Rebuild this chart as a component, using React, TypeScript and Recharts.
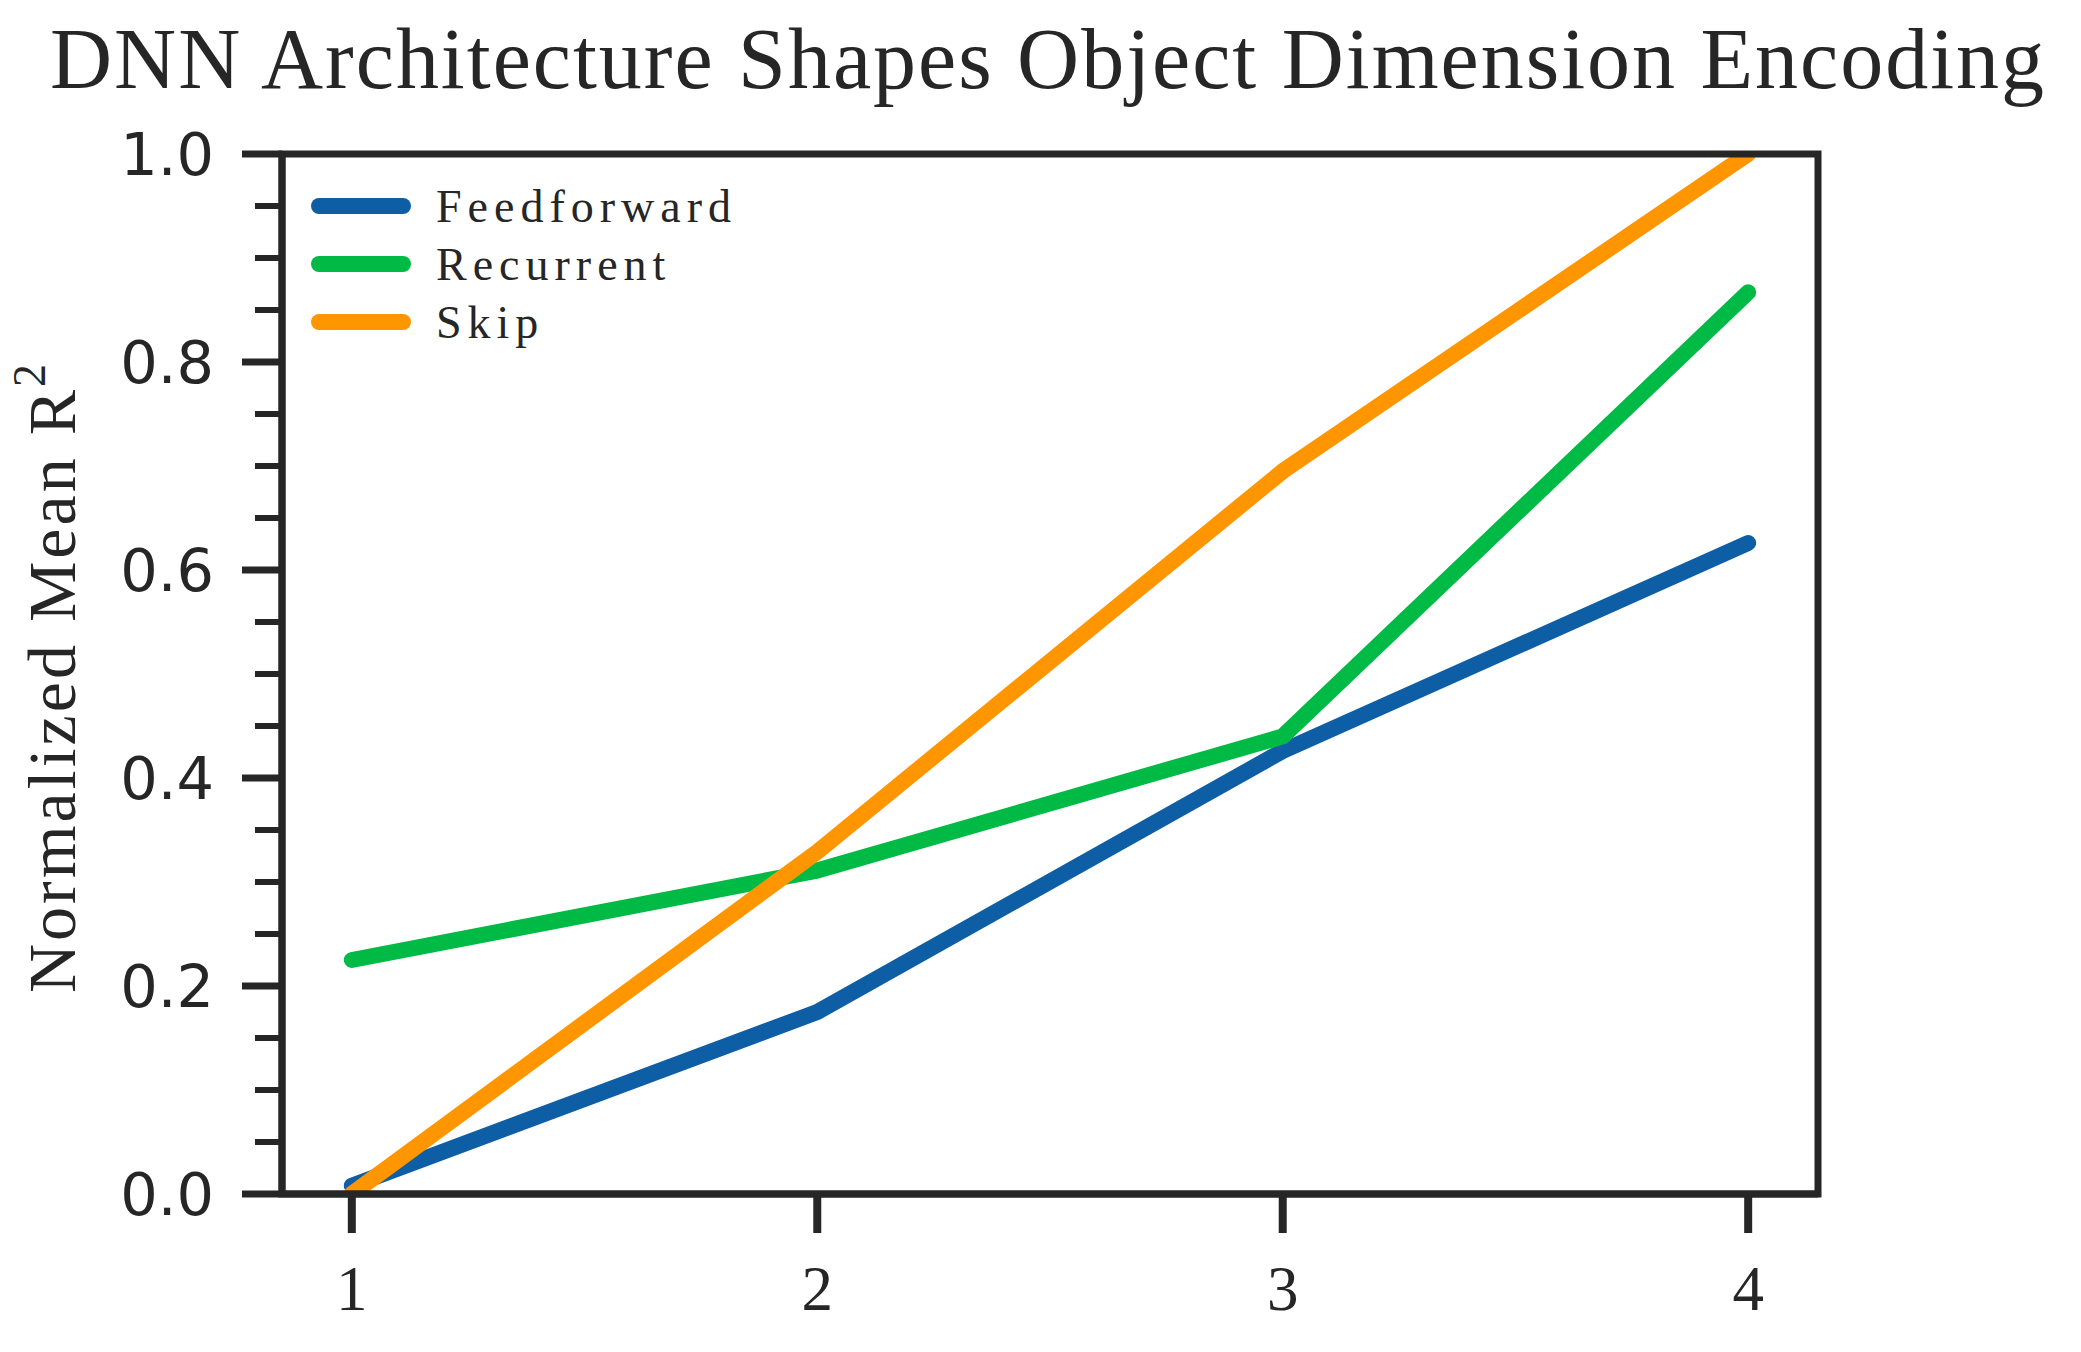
import React from "react";
import { LineChart, Line, XAxis, YAxis, Legend, ReferenceArea } from "recharts";

const LAYERS = [1, 2, 3, 4];
const FEEDFORWARD = [0.008, 0.175, 0.426, 0.626];
const RECURRENT = [0.225, 0.311, 0.44, 0.867];
const SKIP = [0.0, 0.329, 0.695, 1.0];

const X_TICKS = [1, 2, 3, 4];
const Y_MAJOR = [0, 0.2, 0.4, 0.6, 0.8, 1.0];
const Y_LABELS = ["0.0", "0.2", "0.4", "0.6", "0.8", "1.0"];
const Y_MINOR = [0.05, 0.1, 0.15, 0.25, 0.3, 0.35, 0.45, 0.5, 0.55, 0.65, 0.7, 0.75, 0.85, 0.9, 0.95];

const TITLE = "DNN Architecture Shapes Object Dimension Encoding";

const INK = "#262626";
const SERIF = "'Liberation Serif', 'DejaVu Serif', serif";
const SANS = "'DejaVu Sans', sans-serif";

const SERIES = [
  { key: "feedforward", name: "Feedforward", color: "#0e5ea6" },
  { key: "recurrent", name: "Recurrent", color: "#00ba46" },
  { key: "skip", name: "Skip", color: "#ff9600" },
];

const data = LAYERS.map((layer, i) => ({
  layer,
  feedforward: FEEDFORWARD[i],
  recurrent: RECURRENT[i],
  skip: SKIP[i],
}));

const Y_TICK_SIZE = 40;
const Y_TICK_MARGIN = 28;

function YTick(props: any) {
  const { x, y, payload } = props;
  const idx = Y_MAJOR.findIndex((v) => Math.abs(v - payload.value) < 1e-9);
  const spine = x + Y_TICK_MARGIN + Y_TICK_SIZE;
  const len = idx >= 0 ? Y_TICK_SIZE : 27;
  return (
    <g>
      <line x1={spine - len} x2={spine} y1={y} y2={y} stroke={INK} strokeWidth={idx >= 0 ? 7 : 6} />
      {idx >= 0 && (
        <text x={x} y={y} dy="0.36em" textAnchor="end" fontFamily={SANS} fontSize={59} fill={INK}>
          {Y_LABELS[idx]}
        </text>
      )}
    </g>
  );
}

function YLabel(props: any) {
  const { viewBox } = props;
  const cx = viewBox.x - 7;
  const cy = viewBox.y + viewBox.height / 2 + 3;
  return (
    <text
      x={cx}
      y={cy}
      transform={`rotate(-90, ${cx}, ${cy})`}
      textAnchor="middle"
      fontFamily={SERIF}
      fontSize={68}
      letterSpacing={3}
      fill={INK}
    >
      Normalized Mean R
      <tspan fontSize={46} dy={-30}>2</tspan>
    </text>
  );
}

function LegendBox(props: any) {
  const items = props.payload || [];
  return (
    <svg width={460} height={180} style={{ display: "block" }}>
      {items.map((it: any, i: number) => (
        <g key={it.value}>
          <line x1={19} x2={103} y1={26 + i * 58} y2={26 + i * 58} stroke={it.color} strokeWidth={16} strokeLinecap="round" />
          <text x={136} y={42 + i * 58} fontFamily={SERIF} fontSize={46} letterSpacing={6} fill={INK}>
            {it.value}
          </text>
        </g>
      ))}
    </svg>
  );
}

export default function App() {
  return (
    <div style={{ position: "absolute", left: 0, top: 0, width: 2081, height: 1352, background: "#fff" }}>
      <svg width={2081} height={130} style={{ position: "absolute", left: 0, top: 0, pointerEvents: "none", zIndex: 2 }}>
        <text x={50} y={88} fontFamily={SERIF} fontSize={86} fill={INK} textLength={1994} lengthAdjust="spacing">
          {TITLE}
        </text>
      </svg>
      <LineChart width={2081} height={1352} data={data} margin={{ top: 154, right: 263, bottom: 38, left: 82 }}>
        <XAxis
          dataKey="layer"
          type="number"
          domain={[0.85, 4.15]}
          ticks={X_TICKS}
          allowDataOverflow
          height={120}
          tickSize={39}
          tickMargin={32}
          axisLine={{ stroke: INK, strokeWidth: 7 }}
          tickLine={{ stroke: INK, strokeWidth: 8 }}
          tick={{ fill: INK, fontFamily: SERIF, fontSize: 63 }}
        />
        <YAxis
          type="number"
          domain={[0, 1]}
          ticks={[...Y_MAJOR, ...Y_MINOR].sort((a, b) => a - b)}
          interval={0}
          allowDataOverflow
          width={200}
          tickSize={Y_TICK_SIZE}
          tickMargin={Y_TICK_MARGIN}
          axisLine={{ stroke: INK, strokeWidth: 7 }}
          tickLine={false}
          tick={<YTick />}
          label={<YLabel />}
        />
        {SERIES.map((s) => (
          <Line
            key={s.key}
            dataKey={s.key}
            name={s.name}
            stroke={s.color}
            strokeWidth={16}
            strokeLinecap="round"
            strokeLinejoin="round"
            dot={false}
            activeDot={false}
            isAnimationActive={false}
          />
        ))}
        <ReferenceArea
          x1={0.85}
          x2={4.15}
          y1={0}
          y2={1}
          fill="none"
          fillOpacity={0}
          stroke={INK}
          strokeWidth={7}
          zIndex={1000}
        />
        <Legend
          layout="vertical"
          align="center"
          verticalAlign="middle"
          content={<LegendBox />}
          wrapperStyle={{ left: 300, top: 180, width: 460, height: 180 }}
        />
      </LineChart>
    </div>
  );
}
